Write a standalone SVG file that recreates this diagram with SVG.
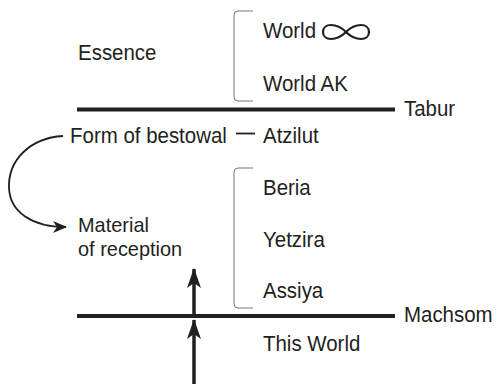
<svg xmlns="http://www.w3.org/2000/svg" width="496" height="384" viewBox="0 0 496 384">
<style>
text{font-family:"Liberation Sans",Arial,sans-serif;font-size:22px;fill:#231f20}
text.m{font-size:21px}
.bar{stroke:#231f20;stroke-width:4;fill:none}
.brk{stroke:#777;stroke-width:1;fill:none}
.thin{stroke:#231f20;stroke-width:1.8;fill:none}
.shaft{stroke:#231f20;stroke-width:3.5;fill:none}
</style>
<defs>
<marker id="ah" viewBox="0 0 14 12" refX="13" refY="6" markerWidth="14" markerHeight="12" markerUnits="userSpaceOnUse" orient="auto">
<path d="M0,0 L14,6 L0,12 L4,6 Z" fill="#231f20"/>
</marker>
<marker id="ah2" viewBox="0 0 20 14" refX="19" refY="7" markerWidth="20" markerHeight="14" markerUnits="userSpaceOnUse" orient="auto">
<path d="M0,0 L20,7 L0,14 L5,7 Z" fill="#231f20"/>
</marker>
</defs>
<g id="tabur"><line class="bar" x1="77" y1="109.5" x2="395" y2="109.5"/><text transform="scale(0.93 1)" x="434.4" y="116">Tabur</text></g>
<g id="machsom"><line class="bar" x1="77" y1="316" x2="395" y2="316"/><text transform="scale(0.93 1)" x="434.4" y="322">Machsom</text></g>
<g id="essence"><text transform="scale(0.93 1)" x="83.9" y="60">Essence</text></g>
<g id="upper-bracket"><path class="brk" d="M253,11 H238 Q234,11 234,15 V97 Q234,101 238,101 H253"/></g>
<g id="world-inf"><text transform="scale(0.93 1)" x="282.8" y="38">World</text>
<path d="M346,32 C340,26 336,25 331,25 C326,25 323,28 323,32 C323,36 326,39 331,39 C336,39 340,38 346,32 C352,26 356,25 361,25 C366,25 369,28 369,32 C369,36 366,39 361,39 C356,39 352,38 346,32 Z" fill="none" stroke="#231f20" stroke-width="2.2"/></g>
<g id="world-ak"><text transform="scale(0.93 1)" x="282.8" y="91">World AK</text></g>
<g id="bestowal"><text transform="scale(0.93 1)" x="75.3" y="143">Form of bestowal</text><line class="thin" x1="236" y1="133.5" x2="255" y2="133.5"/><text transform="scale(0.93 1)" x="282.8" y="143">Atzilut</text></g>
<g id="lower-bracket"><path class="brk" d="M253,168 H238 Q234,168 234,172 V304 Q234,308 238,308 H253"/></g>
<g id="beria"><text transform="scale(0.93 1)" x="282.8" y="195">Beria</text></g>
<g id="yetzira"><text transform="scale(0.93 1)" x="282.8" y="247">Yetzira</text></g>
<g id="assiya"><text transform="scale(0.93 1)" x="282.8" y="298">Assiya</text></g>
<g id="material"><text class="m" transform="scale(0.95 1)" x="82.1" y="232.5">Material</text><text class="m" transform="scale(0.95 1)" x="82.1" y="256">of reception</text></g>
<g id="this-world"><text transform="scale(0.93 1)" x="282.8" y="351">This World</text></g>
<g id="connectors">
<path class="thin" d="M63,136 C30,138 8,160 9,188 C10,212 32,227 66,227" marker-end="url(#ah)"/>
<line class="shaft" x1="194" y1="316" x2="194" y2="269" marker-end="url(#ah2)"/>
<line class="shaft" x1="194" y1="384" x2="194" y2="320" marker-end="url(#ah2)"/>
</g>
</svg>
